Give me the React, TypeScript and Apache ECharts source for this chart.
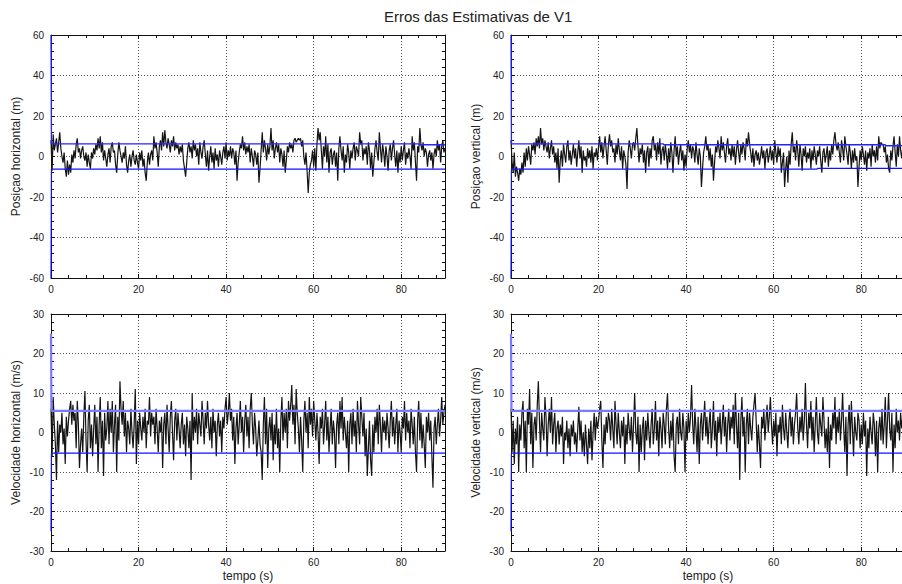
import React, { useEffect, useRef } from "react";
import * as echarts from "echarts";

// Sampling step of the error histories (seconds)
const DT = 0.25;

// Horizontal position error (m)
const POS_H = [
  8, -7, 11, 3, 6, 9, 2, 7, 12, 4, 0, -3, 2, -6, -10, -2, -9, -4, -8, 1,
  -3, 3, -1, 6, 9, 2, 4, -1, 3, 5, 0, -2, 2, -5, 1, -3, -6, 2, -1, 4,
  1, 6, 3, 9, 4, 10, 2, 7, -2, 3, -1, -5, 1, 4, -3, 5, 7, 2, 3, -4,
  -8, 1, 7, 3, 0, -3, 2, -1, 5, -4, -8, -2, 1, -5, 0, 3, -2, -4, 1, -3,
  -6, 2, -2, 3, -5, -1, -8, -12, -3, 2, -4, 1, 3, -2, 10, 4, 7, 2, -5, 5,
  8, 3, 12, 5, 13, 7, 4, 9, 6, 2, 8, 5, 10, 3, 7, 4, 6, 1, 5, 2,
  6, -2, -6, -10, -3, 4, 7, 2, 5, -1, 8, 3, 6, 0, 4, -4, 7, 2, -1, 5,
  8, 1, -5, 3, -7, 0, 5, -3, 2, -6, 4, -2, 1, -5, 3, 0, -4, 2, 5, -1,
  7, -2, 3, 0, 5, -1, 4, 2, -4, 3, -12, -3, 2, 6, 4, 10, 3, 7, 1, 5,
  2, 6, -3, 4, 0, -5, 3, 1, -4, 2, -13, -6, 3, 12, 2, 8, 4, -2, 6, 1,
  5, 14, 3, 8, -1, 4, 7, 2, 6, -3, 4, 1, -5, 3, -8, -2, 5, 2, 7, 4,
  6, 2, 8, 9, 7, 8, 9, 8, 9, 5, 8, 0, -4, 2, -7, -18, -8, -4, -2, 3,
  -5, 4, -7, 6, 14, 8, 12, 3, -6, 5, 0, 10, -3, 6, -8, 2, 4, -4, 1, 3,
  -5, 2, -12, 4, 10, 3, -2, 5, -8, 1, -3, 6, 2, -6, 3, -1, 4, 7, -2, 5,
  3, 0, 12, 6, 8, -2, 4, 1, 5, -4, 7, 3, -6, 2, -10, -3, 4, 8, 2, -2,
  12, 4, -3, 6, 2, -5, 5, 0, -7, 3, 6, -2, 4, 8, 1, -5, 3, -8, 2, -3,
  5, -2, 3, 7, -4, 2, -1, 4, 0, -6, 10, 3, 7, -3, -12, 5, 2, 14, 6, 3,
  7, 0, 4, 2, -5, 1, 3, -2, 2, -6, 1, 4, 0, 8, 3, 6, -3, 5, 8, 2,
  4,
];

// Vertical position error (m)
const POS_V = [
  8, -3, -8, 2, -10, -5, -8, -12, -6, -9, -3, -8, 2, -5, 4, -2, 5, 1, -4, 6,
  3, 7, 1, 9, 5, 10, 4, 14, 6, 9, 3, 8, 5, 2, 7, -1, 4, 8, 1, 5,
  -3, 2, -6, 4, -13, -2, 3, -5, 6, 1, -3, 5, 8, -2, 3, -4, 1, 6, -1, 4,
  -5, 2, 8, -1, 5, -8, 3, -2, 0, -5, 4, -1, 3, -3, 5, -6, 2, 0, 4, -2,
  5, 10, 2, 7, -1, 5, 10, 3, -4, 6, 11, 5, 8, 2, 4, -3, 6, 1, 9, 3,
  -2, 5, -6, 3, 0, -4, -16, 2, 8, 4, -1, 6, 7, 3, 9, 14, 5, -3, 4, 1,
  6, -3, 3, -8, 2, 5, -5, 4, -1, 8, 10, 3, 6, -2, 7, 1, 9, -4, 3, 5,
  -2, 6, 1, -6, 4, -3, 7, 2, -8, 3, 10, 0, 5, -4, 2, 6, -2, 3, -7, 1,
  -5, 4, 8, 2, 6, -1, 5, 3, -3, 7, 1, -4, 4, 0, -15, -6, 2, 5, 10, 3,
  6, -2, 4, -5, 1, -12, -3, 5, 2, 8, 4, -1, 10, 3, 7, 2, -3, 5, 9, 1,
  4, -2, 6, 0, 5, -4, 3, 8, 2, -3, 6, 1, 7, 4, -2, 9, 5, 12, 6, 2,
  -3, 4, -5, 1, 3, -2, 2, -4, 0, 5, -1, 3, -6, 2, 4, -3, 1, 5, -2, 3,
  -4, 8, 2, -3, 5, 0, 4, -8, -3, 2, -15, -6, 0, -13, 3, -4, 6, 12, 2, 5,
  -2, 8, 3, -5, 6, 1, -7, 4, 0, 5, -3, 2, -1, 4, -6, 3, -2, 5, 1, -4,
  3, 0, 5, -2, -8, 2, 4, -3, 1, 5, -5, 3, -2, 6, 1, 8, 12, 6, 3, 7,
  2, -3, 8, 4, -2, 10, 5, 1, -4, 6, 2, -6, 3, -3, 4, -2, 0, -15, -5, 3,
  -2, 5, 1, -4, 3, -7, 2, -1, 4, -5, 6, 0, 3, -3, 5, -2, 10, 4, 7, 6,
  6, 2, 5, -3, 1, -6, -8, 3, -2, 5, 10, 2, -5, 6, 0, 10, 3, -1, 5, 2,
  4,
];

// Horizontal velocity error (m/s)
const VEL_H = [
  6, -6, 9, 2, -3, -12, 3, -5, 2, 0, 5, -3, 1, -8, 4, -1, 3, 6, 8, 2,
  7, 3, 5, -4, 8, 2, -9, -3, 1, -5, 4, 10.5, -2, -10, 3, 7, -4, 2, -6, 1,
  7, -3, 4, -10, 2, 9, -4, 3, -11, 5, -2, 1, 8, -3, 6, 0, 8, -5, 2, 7,
  -10, 4, -2, 13, 6, 2, 8, -1, 5, -5, 3, 1, -3, 6, 0, -4, 2, 11, -8, 3,
  -3, 5, 1, -2, 4, 0, 6, -4, 3, 2, 9, -1, 5, 2, 4, -3, 6, 1, -5, 3,
  0, 4, -9, 2, 5, -3, 7, 1, -5, 4, 8, 0, -7, 3, 6, -2, 5, 1, -4, 2,
  5, -3, 2, -6, 4, 1, -4, 3, -12, 10, -2, 4, 0, 6, -3, 5, 2, -1, 8, 3,
  -3, 5, 1, 8, 2, -2, 4, -4, 6, 0, 3, -6, 2, 5, -1, 3, -5, 4, 1, 6,
  9, 2, 5, 10, 3, 6, -2, 4, -8, 1, 5, -3, 2, 8, 0, 4, -5, 3, 7, -1,
  4, -4, 6, 10, 2, -3, 5, 1, -6, -2, 3, -3, -5, -12, 2, 9, -3, 6, -9, 1,
  4, -2, 5, -7, 2, -3, 6, -4, 1, -10, 3, 9, -2, 5, 0, 6, -4, 8, 3, 7,
  12, 2, 7, -3, 11, 5, 1, -5, 4, -2, -10, 3, 8, 0, 5, -4, 9, 2, 6, -1,
  8, 3, -2, 5, 0, -8, 4, 1, 6, -3, 2, 8, -2, 4, -5, 1, 6, -3, 3, 0,
  -9, 2, 5, -3, 8, 1, 9, -2, 4, 0, -4, 3, -10, 2, 5, -3, 6, -1, 3, -5,
  8, 2, -3, 9, 4, -1, 5, -6, 1, -11, -4, 3, -7, -11, 2, -5, 4, 0, 6, -3,
  7, 2, -5, 4, 0, 3, -2, 5, 1, -4, 3, 8, -1, 4, -3, 2, 6, -5, 3, 0,
  -5, 4, 1, 8, -2, 5, 0, 3, -4, 6, 2, -3, 4, -5, -10, 3, 8, -2, 5, -4,
  2, -3, -9, 4, 0, 5, -2, 3, -6, -14, 1, 4, -3, 2, 6, -1, 3, 9, 2, 5,
  7,
];

// Vertical velocity error (m/s)
const VEL_V = [
  6, -5, 3, -8, 1, -3, 4, -10, 2, -2, 5, 8, -4, 3, -10, 6, 2, 11, -3, 5,
  -9, 2, 4, -2, 7, 13, 3, -5, 5, 1, -2, 9, 4, -6, 2, 6, 0, 9, -3, 2,
  5, -5, 1, 3, -3, 2, -1, 4, -8, 0, -2, 3, -4, 1, -6, 2, -1, 3, -3, 0,
  -5, 1, 6.5, -2, 3, -5, 0, -6, 2, -3, -8, 1, -4, 3, -7, 0, 5, -2, 4, 1,
  3, 6, 8, -2, -9, 2, -3, 4, 0, 5, 3, -2, 6, 1, -4, 8, 2, -3, 5, 0,
  -4, 3, -1, 4, -8, 2, -3, 5, 1, -2, 4, -5, 2, 10, 0, -3, 4, -10, 2, -5,
  1, 4, -7, 3, -2, 5, 0, -4, 2, 6, -3, 1, 8, -2, 3, -6, 4, 1, -4, 5,
  2, -3, 6, 10, 1, -4, 3, -2, 5, -6, -10, 2, 4, -3, 6, 0, -2, 5, 1, -10,
  3, -2, 5, 0, 4, 12, 2, -3, 6, 1, -5, 4, -8, 2, 5, -2, 3, 8, -1, 4,
  -3, 2, 6, -4, 1, 8, -2, 3, -6, 4, 0, 5, -3, 2, 7, -1, 4, -5, 2, 6,
  -2, 4, 1, 7, -3, 10, 2, -4, 5, -12, 3, 9, -1, 4, -10, 2, 6, -3, 5, 1,
  -2, 4, 7, 10, 3, -5, 2, -3, -9, 4, 1, 6, -2, 3, 7, 0, 4, 9, 2, -3,
  3, -1, 5, -6, 2, 0, 4, -3, 7, 1, -2, 5, 0, -4, 3, 6, -1, 4, -3, 2,
  5, 10, 1, -3, 4, 0, 6, -2, 3, 12.5, 2, -4, 5, 1, 8, -2, 4, -5, 2, 9,
  0, -3, 5, 2, -1, 9, 3, -4, 1, -5, 4, -9, 2, -2, 5, 1, 9, -3, 4, 0,
  6, -2, 3, 10, 1, -5, 4, -11, 2, 7, -3, 8, 1, -6, 4, 0, -2, 5, 3, -4,
  2, -3, 5, -1, 3, -11, 1, -4, 4, 0, -3, 5, 2, -6, 3, -10, 1, 4, -2, 6,
  -3, 2, 9, -4, 3, 10, 1, -2, 5, -10, 2, -4, 6, 0, 3, -2, 5, 1, 4, 3,
  3,
];

// ±1σ envelopes: breakpoint times and values
const POS_H_UP_T = [0, 0.1, 84, 84.1, 90];
const POS_H_UP = [60, 6.25, 6.25, 5.8, 5.8];
const POS_H_LO_T = [0, 0.1, 90];
const POS_H_LO = [-60, -6.25, -6.25];

const POS_V_UP_T = [0, 0.1, 34.8, 34.9, 85.5, 85.6, 90];
const POS_V_UP = [60, 6.25, 6.25, 5.8, 5.8, 5.3, 5.3];
const POS_V_LO_T = [0, 0.1, 69.9, 70, 90];
const POS_V_LO = [-60, -6.25, -6.25, -5.9, -5.9];

const VEL_UP_T = [0, 0.1, 90];
const VEL_H_UP = [25, 5.5, 5.5];
const VEL_H_LO = [-25, -5.2, -5.2];
const VEL_V_UP = [25, 5.5, 5.5];
const VEL_V_LO = [-25, -5.2, -5.2];

const X_TICKS = { min: 0, max: 90, interval: 20 };

const TITLE = "Erros das Estimativas de V1";
const Y_NAMES = [
  "Posiçao horizontal (m)",
  "Posiçao vertical (m)",
  "Velocidade horizontal (m/s)",
  "Velocidade vertical (m/s)",
];
const X_NAME = "tempo (s)";

const FONT = "'Liberation Sans', Arial, sans-serif";

const pairs = (vals: number[]) => vals.map((v, i) => [i * DT, v]);
const zipT = (ts: number[], vs: number[]) => ts.map((t, i) => [t, vs[i]]);

export default function App() {
  const ref = useRef<HTMLDivElement>(null);

  useEffect(() => {
    if (!ref.current) return;
    const chart = echarts.init(ref.current, undefined, { renderer: "svg" });

    const panels = [
      { left: 51, top: 35, height: 243, yMin: -60, yMax: 60, yInt: 20, name: Y_NAMES[0], xName: "",
        noise: POS_H, up: zipT(POS_H_UP_T, POS_H_UP), lo: zipT(POS_H_LO_T, POS_H_LO), upStyle: { color: "#2424ff", width: 1.3 } },
      { left: 511, top: 35, height: 243, yMin: -60, yMax: 60, yInt: 20, name: Y_NAMES[1], xName: "",
        noise: POS_V, up: zipT(POS_V_UP_T, POS_V_UP), lo: zipT(POS_V_LO_T, POS_V_LO), upStyle: { color: "#2424ff", width: 1.3 } },
      { left: 51, top: 314, height: 237, yMin: -30, yMax: 30, yInt: 10, name: Y_NAMES[2], xName: X_NAME,
        noise: VEL_H, up: zipT(VEL_UP_T, VEL_H_UP), lo: zipT(VEL_UP_T, VEL_H_LO), upStyle: { color: "#7a7aff", width: 2.2 } },
      { left: 511, top: 314, height: 237, yMin: -30, yMax: 30, yInt: 10, name: Y_NAMES[3], xName: X_NAME,
        noise: VEL_V, up: zipT(VEL_UP_T, VEL_V_UP), lo: zipT(VEL_UP_T, VEL_V_LO), upStyle: { color: "#7a7aff", width: 2.2 } },
    ];

    const frame = { onZero: false, lineStyle: { color: "#111", width: 1 } };
    const tick = { inside: true, length: 4, lineStyle: { color: "#111" } };
    const minor = { show: true, splitNumber: 5, length: 3, lineStyle: { color: "#111" } };
    const dotted = { show: true, lineStyle: { color: "#555", type: [1, 2] as any, width: 1 } };
    const label = { fontSize: 10, color: "#222", fontFamily: FONT };
    const nameStyle = { fontSize: 12, color: "#222", fontFamily: FONT };

    const grid: any[] = [];
    const xAxis: any[] = [];
    const yAxis: any[] = [];
    const series: any[] = [];

    panels.forEach((p, i) => {
      grid.push({
        left: p.left, top: p.top, width: 394, height: p.height,
        containLabel: false, outerBoundsMode: "none",
      });
      xAxis.push({
        type: "value", gridIndex: i, position: "bottom", ...X_TICKS,
        axisLine: frame, axisTick: tick, minorTick: minor,
        splitLine: dotted,
        axisLabel: { ...label, margin: 6, showMaxLabel: false },
        name: p.xName, nameLocation: "middle", nameGap: 19, nameTextStyle: nameStyle,
      });
      xAxis.push({
        type: "value", gridIndex: i, position: "top", ...X_TICKS,
        axisLine: frame, axisTick: tick, minorTick: minor,
        splitLine: { show: false }, axisLabel: { show: false },
      });
      yAxis.push({
        type: "value", gridIndex: i, position: "left", min: p.yMin, max: p.yMax, interval: p.yInt,
        axisLine: frame, axisTick: tick, minorTick: minor,
        splitLine: dotted,
        axisLabel: { ...label, margin: 7 },
        name: p.name, nameLocation: "middle", nameRotate: 90, nameGap: 29, nameTextStyle: nameStyle,
      });
      yAxis.push({
        type: "value", gridIndex: i, position: "right", min: p.yMin, max: p.yMax, interval: p.yInt,
        axisLine: frame, axisTick: tick, minorTick: minor,
        splitLine: { show: false }, axisLabel: { show: false },
      });
      const axes = { xAxisIndex: 2 * i, yAxisIndex: 2 * i };
      series.push({
        type: "line", ...axes, data: pairs(p.noise), showSymbol: false, clip: true,
        lineStyle: { color: "#141414", width: 1.2 }, z: 2,
      });
      series.push({
        type: "line", ...axes, data: p.up, showSymbol: false, clip: false,
        lineStyle: p.upStyle, z: 3,
      });
      series.push({
        type: "line", ...axes, data: p.lo, showSymbol: false, clip: false,
        lineStyle: { color: "#1010ff", width: 1.2 }, z: 3,
      });
    });

    chart.setOption({
      animation: false,
      backgroundColor: "#fff",
      title: {
        text: TITLE, left: 379, top: 4,
        textStyle: { fontSize: 15, fontWeight: "normal", color: "#222", fontFamily: FONT },
      },
      grid, xAxis, yAxis, series,
    });

    return () => chart.dispose();
  }, []);

  return (
    <div
      ref={ref}
      style={{ position: "absolute", left: 0, top: 0, width: 902, height: 584, background: "#fff" }}
    />
  );
}
